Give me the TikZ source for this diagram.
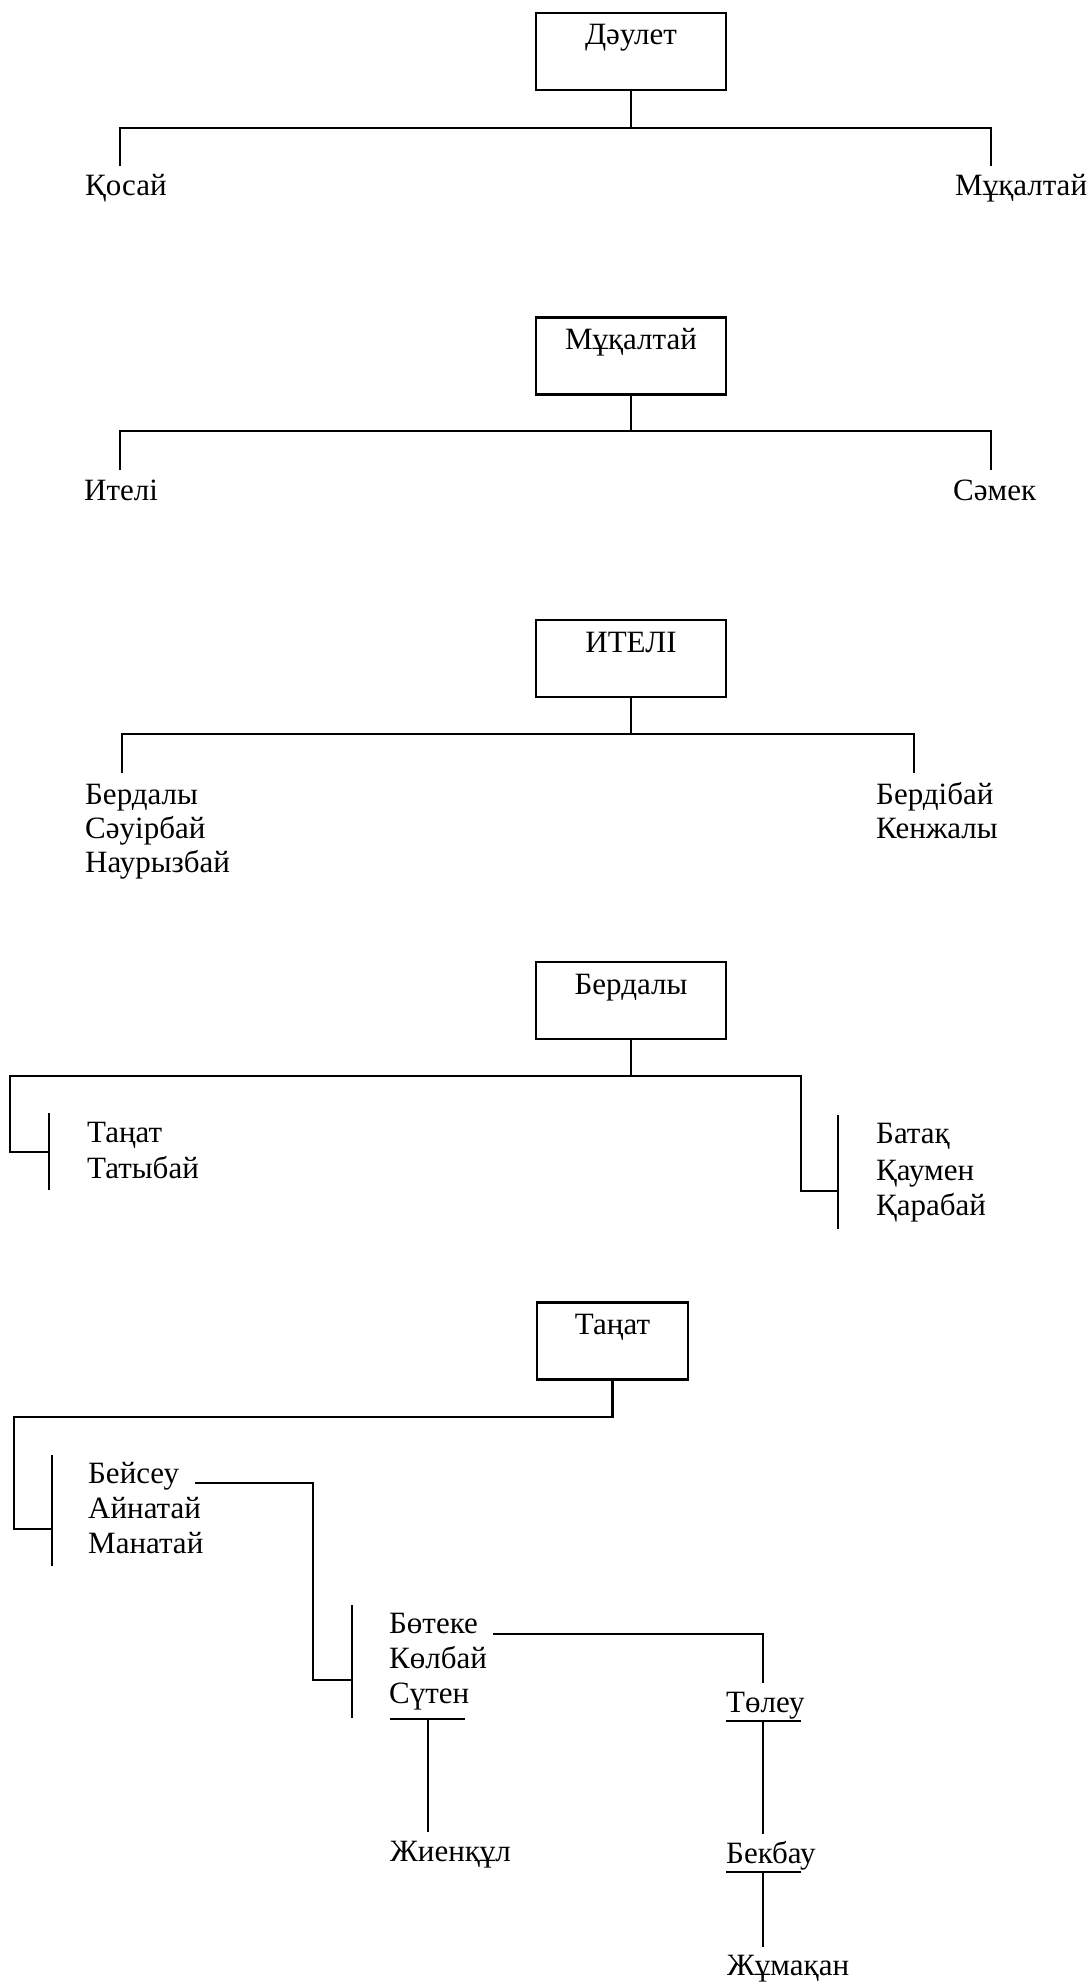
\documentclass[tikz,border=0pt]{standalone}
\usepackage{fontspec}
\setmainfont{Liberation Serif}
\begin{document}
\begin{tikzpicture}[x=1pt,y=-1pt,
  conn/.style={line width=2.2pt},
  box/.style={draw, line width=2.6pt, inner sep=0pt, minimum width=190pt,
    text height=32pt, text depth=45pt, font=\fontsize{31}{34}\selectfont},
  nm/.style={inner sep=0pt, anchor=base west, font=\fontsize{31}{34}\selectfont}]
\useasboundingbox (0,0) rectangle (1089,1983);

% ---------- Section 1 ----------
\node[box] (b1) at (631,51.5) {Дәулет};
\node[nm] (qosai) at (85,195) {Қосай};
\node[nm] (muq1) at (955,195) {Мұқалтай};
\coordinate (j1) at (631,128);
\coordinate (l1) at (120,128); \coordinate (l1e) at (120,166);
\coordinate (r1) at (991,128); \coordinate (r1e) at (991,166);
\draw[conn] (b1.south) -- (j1);
\draw[conn] (l1e) -- (l1) -- (r1) -- (r1e);

% ---------- Section 2 ----------
\node[box] (b2) at (631,356) {Мұқалтай};
\node[nm] (iteli) at (84,500) {Ителі};
\node[nm] (samek) at (953,500) {Сәмек};
\coordinate (j2) at (631,431);
\coordinate (l2) at (120,431); \coordinate (l2e) at (120,470);
\coordinate (r2) at (991,431); \coordinate (r2e) at (991,470);
\draw[conn] (b2.south) -- (j2);
\draw[conn] (l2e) -- (l2) -- (r2) -- (r2e);

% ---------- Section 3 ----------
\node[box] (b3) at (631,658.5) {ИТЕЛІ};
\node[nm] (berdaly1) at (85,804) {Бердалы};
\node[nm] (sauirbai) at (85,838) {Сәуірбай};
\node[nm] (nauryzbai) at (85,872) {Наурызбай};
\node[nm] (berdibai) at (876,804) {Бердібай};
\node[nm] (kenzhaly) at (876,838) {Кенжалы};
\coordinate (j3) at (631,734);
\coordinate (l3) at (122,734); \coordinate (l3e) at (122,773);
\coordinate (r3) at (914,734); \coordinate (r3e) at (914,773);
\draw[conn] (b3.south) -- (j3);
\draw[conn] (l3e) -- (l3) -- (r3) -- (r3e);

% ---------- Section 4 ----------
\node[box] (b4) at (631,1000.5) {Бердалы};
\node[nm] (tanat1) at (87,1142) {Таңат};
\node[nm] (tatybai) at (87,1178) {Татыбай};
\node[nm] (batak) at (876,1143) {Батақ};
\node[nm] (qaumen) at (876,1180) {Қаумен};
\node[nm] (qarabai) at (876,1215) {Қарабай};
\coordinate (j4) at (631,1076);
\coordinate (l4) at (10,1076); \coordinate (l4c) at (10,1152); \coordinate (l4b) at (49,1152);
\coordinate (r4) at (801,1076); \coordinate (r4c) at (801,1191); \coordinate (r4b) at (838,1191);
\coordinate (lbr4t) at (49,1113); \coordinate (lbr4b) at (49,1190);
\coordinate (rbr4t) at (838,1115); \coordinate (rbr4b) at (838,1229);
\draw[conn] (b4.south) -- (j4);
\draw[conn] (l4b) -- (l4c) -- (l4) -- (r4) -- (r4c) -- (r4b);
\draw[conn] (lbr4t) -- (lbr4b);
\draw[conn] (rbr4t) -- (rbr4b);

% ---------- Section 5 ----------
\node[box, minimum width=151pt] (b5) at (612.5,1341) {Таңат};
\node[nm] (beiseu) at (88,1483) {Бейсеу};
\node[nm] (ainatai) at (88,1518) {Айнатай};
\node[nm] (manatai) at (88,1553) {Манатай};
\node[nm] (boteke) at (389,1633) {Бөтеке};
\node[nm] (kolbai) at (389,1668) {Көлбай};
\node[nm] (suten) at (389,1703) {Сүтен};
\node[nm] (zhienqul) at (390,1861) {Жиенқұл};
\node[nm] (toleu) at (726,1712) {Төлеу};
\node[nm] (bekbau) at (726,1863) {Бекбау};
\node[nm] (zhumaqan) at (727,1975) {Жұмақан};

\coordinate (j5) at (612.5,1417);
\coordinate (l5) at (14,1417); \coordinate (l5c) at (14,1529); \coordinate (l5b) at (52,1529);
\coordinate (br5t) at (52,1455); \coordinate (br5b) at (52,1566);
\draw[conn] (b5.south) -- (j5) -- (l5) -- (l5c) -- (l5b);
\draw[conn] (br5t) -- (br5b);

\coordinate (bs1) at (195,1483); \coordinate (bs2) at (313,1483);
\coordinate (bs3) at (313,1680); \coordinate (bs4) at (352,1680);
\coordinate (br6t) at (352,1605); \coordinate (br6b) at (352,1718);
\draw[conn] (bs1) -- (bs2) -- (bs3) -- (bs4);
\draw[conn] (br6t) -- (br6b);

\coordinate (bt1) at (493,1634); \coordinate (bt2) at (763,1634); \coordinate (bt3) at (763,1683);
\draw[conn] (bt1) -- (bt2) -- (bt3);

\coordinate (su1) at (390,1719); \coordinate (su2) at (465,1719);
\coordinate (sv1) at (428,1719); \coordinate (sv2) at (428,1832);
\draw[conn] (su1) -- (su2);
\draw[conn] (sv1) -- (sv2);

\coordinate (tu1) at (726,1721); \coordinate (tu2) at (801,1721);
\coordinate (tv1) at (763,1721); \coordinate (tv2) at (763,1834);
\draw[conn] (tu1) -- (tu2);
\draw[conn] (tv1) -- (tv2);

\coordinate (bu1) at (726,1872); \coordinate (bu2) at (801,1872);
\coordinate (bv1) at (763,1872); \coordinate (bv2) at (763,1947);
\draw[conn] (bu1) -- (bu2);
\draw[conn] (bv1) -- (bv2);
\end{tikzpicture}
\end{document}
